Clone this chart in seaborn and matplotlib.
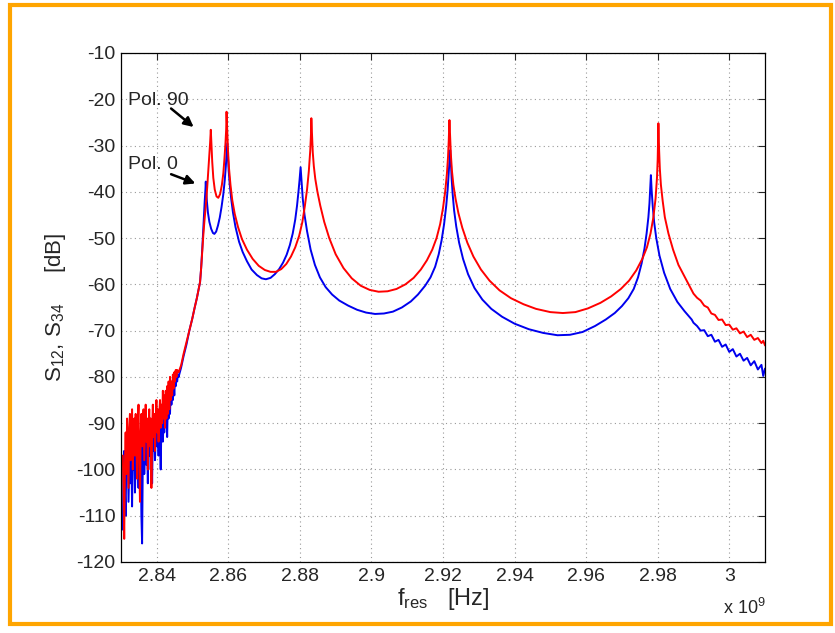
import numpy as np
import pandas as pd
import matplotlib
matplotlib.use("Agg")
import matplotlib.pyplot as plt
from matplotlib.patches import Rectangle
import seaborn as sns

# ------------------------ Donnees ------------------------
# frequence en GHz (axe affiche x 10^9), transmission en dB

# zone bruitee commune (basse frequence)
noise_freq = [2.8305, 2.8307, 2.8309, 2.8311, 2.8313, 2.8315, 2.8317, 2.8319, 2.8321, 2.8323,
              2.8325, 2.8327, 2.8329, 2.8331, 2.8333, 2.8335, 2.8337, 2.8339, 2.8341, 2.8343,
              2.8345, 2.8347, 2.8349, 2.8351, 2.8353, 2.8355, 2.8357, 2.8359, 2.8361, 2.8363,
              2.8365, 2.8367, 2.8369, 2.8371, 2.8373, 2.8375, 2.8377, 2.8379, 2.8381, 2.8383,
              2.8385, 2.8387, 2.8389, 2.8391, 2.8393, 2.8395, 2.8397, 2.8399, 2.8401, 2.8403,
              2.8405, 2.8407, 2.8409, 2.8411, 2.8413, 2.8415, 2.8417, 2.8419, 2.8421, 2.8423,
              2.8425, 2.8427, 2.8429, 2.8431, 2.8433, 2.8435, 2.8437, 2.8439, 2.8441, 2.8443,
              2.8445, 2.8447, 2.8449, 2.8451, 2.8453, 2.8455, 2.8457, 2.8459, 2.8461]
noise_pol0 = [-113, -100, -96, -105, -110, -97, -101, -94, -107, -99,
              -92, -103, -97, -108, -95, -100, -93, -105, -98, -91,
              -101, -96, -104, -92, -99, -95, -110, -116, -98, -93,
              -101, -96, -90, -99, -94, -103, -92, -97, -89, -100,
              -94, -103, -91, -96, -90, -98, -93, -88, -95, -91,
              -97, -89, -93, -100, -90, -87, -94, -89, -92, -86,
              -90, -87, -93, -85, -89, -84, -88, -83, -86, -82,
              -85, -81, -84, -80.5, -82, -80, -81, -79.5, -80]
noise_pol90 = [-97, -104, -115, -99, -92, -101, -89, -96, -104, -91,
               -88, -98, -93, -87, -100, -94, -89, -97, -88, -95,
               -102, -90, -86, -96, -107, -93, -88, -95, -90, -87,
               -98, -92, -86, -94, -89, -100, -91, -87, -95, -89,
               -104, -92, -86, -93, -88, -96, -90, -85, -92, -87,
               -94, -88, -85, -91, -86, -90, -83, -89, -84, -91,
               -83, -89, -82, -88, -81, -87, -80, -85, -81, -84,
               -79.5, -82.5, -79, -81, -78.5, -80, -78.5, -79, -79]

# Pol. 0 (bleu)
freq_pol0 = [2.8468, 2.8475, 2.8483, 2.8491, 2.8499, 2.8506, 2.8512, 2.8517, 2.8521, 2.8524,
             2.8527, 2.8530, 2.8532, 2.8534, 2.8536, 2.8537, 2.8538, 2.8540, 2.8543, 2.8547,
             2.8552, 2.8557, 2.8561, 2.8566, 2.8571, 2.8576, 2.8581, 2.8586, 2.8590, 2.8593,
             2.8595, 2.8597, 2.8599, 2.8601, 2.8604, 2.8608, 2.8613, 2.8620, 2.8630, 2.8640,
             2.8652, 2.8665, 2.8680, 2.8693, 2.8705, 2.8718, 2.8730, 2.8742, 2.8753, 2.8763,
             2.8772, 2.8780, 2.8787, 2.8792, 2.8796, 2.8799, 2.8802, 2.8805, 2.8808, 2.8813,
             2.8820, 2.8830, 2.8842, 2.8856, 2.8872, 2.8890, 2.8910, 2.8935, 2.8960, 2.8985,
             2.9010, 2.9035, 2.9060, 2.9085, 2.9110, 2.9130, 2.9150, 2.9165, 2.9178, 2.9188,
             2.9196, 2.9203, 2.9209, 2.9213, 2.9216, 2.9218, 2.9220, 2.9222, 2.9224, 2.9227,
             2.9231, 2.9237, 2.9245, 2.9256, 2.9270, 2.9288, 2.9310, 2.9335, 2.9365, 2.9400,
             2.9440, 2.9480, 2.9520, 2.9555, 2.9590, 2.9625, 2.9655, 2.9680, 2.9700, 2.9718,
             2.9733, 2.9745, 2.9755, 2.9763, 2.9769, 2.9774, 2.9777, 2.9779, 2.9781, 2.9783,
             2.9786, 2.9790, 2.9796, 2.9805, 2.9818, 2.9835, 2.9855, 2.9875, 2.9895, 2.9900,
             2.9910, 2.9920, 2.9930, 2.9940, 2.9950, 2.9960, 2.9970, 2.9980, 2.9990, 3.0000,
             3.0010, 3.0020, 3.0030, 3.0040, 3.0050, 3.0060, 3.0070, 3.0080, 3.0090, 3.0095,
             3.0100]
s_pol0 = [-78, -75.5, -73, -70, -67.5, -65, -63, -61, -59.5, -56.5,
          -52.5, -48, -45, -42, -39.5, -37.8, -39.5, -42, -44.5, -46.5,
          -48, -48.9, -49.1, -48.6, -47.3, -45.6, -43.3, -40.5, -37.5, -34.5,
          -32, -29.5, -32.5, -35.5, -38.5, -41.5, -44.5, -47.6, -50.8, -53,
          -55, -56.8, -58, -58.7, -58.9, -58.6, -57.8, -56.7, -55.3, -53.6,
          -51.5, -49, -46, -43, -40, -37.5, -34.7, -38, -41.5, -45,
          -48.5, -52.5, -55.8, -58.5, -60.6, -62.2, -63.5, -64.6, -65.5, -66.1,
          -66.4, -66.3, -65.9, -65, -63.7, -62.2, -60.3, -58.5, -56.2, -53.5,
          -50.5, -47, -43, -39.5, -36, -33.5, -31, -33.5, -37, -40.5,
          -44, -47.5, -51, -54.5, -57.8, -60.8, -63.3, -65.3, -67, -68.5,
          -69.7, -70.5, -71, -70.9, -70.3, -69, -67.6, -66.2, -64.7, -63,
          -61, -58.5, -55.5, -52.3, -49, -45.5, -42.5, -39.5, -36.4, -39.5,
          -43, -46.5, -50, -53.8, -57.5, -61, -63.8, -65.8, -67.6, -68.3,
          -69.0, -70.0, -69.9, -71.2, -70.9, -72.4, -72.0, -73.5, -73.0, -74.6,
          -74.0, -75.6, -75.0, -76.5, -75.9, -77.5, -76.6, -78.4, -77.4, -79.8,
          -78.2]

# Pol. 90 (rouge)
freq_pol90 = [2.8468, 2.8475, 2.8483, 2.8491, 2.8499, 2.8506, 2.8512, 2.8517, 2.8521, 2.8524,
              2.8527, 2.8530, 2.8533, 2.8537, 2.8541, 2.8544, 2.8547, 2.8549, 2.8551, 2.8553,
              2.8555, 2.8558, 2.8562, 2.8567, 2.8572, 2.8577, 2.8582, 2.8586, 2.8589, 2.8592,
              2.8594, 2.8595, 2.8597, 2.8599, 2.8602, 2.8606, 2.8611, 2.8618, 2.8627, 2.8638,
              2.8652, 2.8668, 2.8685, 2.8702, 2.8718, 2.8733, 2.8748, 2.8762, 2.8775, 2.8787,
              2.8798, 2.8807, 2.8814, 2.8820, 2.8825, 2.8829, 2.8831, 2.8832, 2.8834, 2.8836,
              2.8839, 2.8843, 2.8849, 2.8857, 2.8868, 2.8882, 2.8900, 2.8922, 2.8945, 2.8970,
              2.8995, 2.9020, 2.9045, 2.9070, 2.9095, 2.9118, 2.9138, 2.9155, 2.9170, 2.9182,
              2.9192, 2.9200, 2.9206, 2.9211, 2.9214, 2.9216, 2.9218, 2.9220, 2.9222, 2.9225,
              2.9229, 2.9235, 2.9243, 2.9254, 2.9268, 2.9285, 2.9306, 2.9330, 2.9358, 2.9390,
              2.9425, 2.9460, 2.9500, 2.9535, 2.9570, 2.9605, 2.9640, 2.9670, 2.9697, 2.9720,
              2.9740, 2.9757, 2.9770, 2.9780, 2.9788, 2.9794, 2.9798, 2.9800, 2.9802, 2.9804,
              2.9806, 2.9809, 2.9814, 2.9820, 2.9830, 2.9843, 2.9858, 2.9875, 2.9890, 2.9900,
              2.9910, 2.9920, 2.9930, 2.9940, 2.9950, 2.9960, 2.9970, 2.9980, 2.9990, 3.0000,
              3.0010, 3.0020, 3.0030, 3.0040, 3.0050, 3.0060, 3.0070, 3.0080, 3.0090, 3.0095,
              3.0100]
s_pol90 = [-77.5, -75, -72.5, -70, -67.5, -65, -63, -61, -59.5, -56.5,
           -53, -49.5, -46.5, -43, -39, -35.5, -32, -29.5, -26.6, -30,
           -33.5, -37, -39.5, -41, -41.3, -40.5, -38.5, -36, -33, -29.5,
           -26.5, -22.7, -27, -31, -35, -38.5, -41.8, -44.8, -47.6, -50.2,
           -52.5, -54.5, -56, -56.9, -57.3, -57.3, -56.7, -55.6, -54.0, -52,
           -49.5, -46.5, -43, -39.5, -35.5, -31, -27.5, -24.1, -28, -31.5,
           -34.5, -37.2, -40, -43, -46.5, -50, -53.5, -56.5, -58.7, -60.3,
           -61.2, -61.6, -61.5, -61, -60, -58.6, -56.8, -54.8, -52.5, -50,
           -47, -43.5, -40, -36, -32.5, -29, -24.5, -28.5, -32, -35.5,
           -38.5, -41.5, -44.6, -47.8, -51, -54, -56.8, -59.2, -61.3, -63,
           -64.3, -65.3, -66, -66.2, -66, -65.2, -64, -62.6, -61, -59.2,
           -57, -54.5, -52, -49, -45.5, -41.5, -37, -33, -25.2, -31,
           -35, -38.5, -42, -45.5, -49, -52.5, -55.8, -58.3, -60.5, -62.0,
           -62.9, -63.5, -64.6, -65.0, -66.3, -66.6, -67.7, -67.6, -68.8, -68.7,
           -69.8, -69.5, -70.6, -70.2, -71.4, -70.9, -72.0, -71.6, -72.7, -72.2,
           -73.2]

# ------------------------ Tables ------------------------
df_pol0 = pd.DataFrame({"f": noise_freq + freq_pol0, "s": noise_pol0 + s_pol0})
df_pol90 = pd.DataFrame({"f": noise_freq + freq_pol90, "s": noise_pol90 + s_pol90})

# ------------------------ Figure ------------------------
sns.set_style("white")
plt.rcParams['font.family'] = ['Liberation Sans', 'DejaVu Sans']
plt.rcParams['mathtext.fontset'] = 'custom'
plt.rcParams['mathtext.rm'] = 'Liberation Sans'
plt.rcParams['mathtext.default'] = 'regular'
plt.rcParams['axes.unicode_minus'] = False

fig = plt.figure(figsize=(8.35, 6.33), dpi=100)
ax = fig.add_axes([0.1449, 0.1122, 0.7713, 0.8041])

sns.lineplot(data=df_pol0, x="f", y="s", ax=ax, color="#0000ee", lw=1.4,
             estimator=None, sort=False)
sns.lineplot(data=df_pol90, x="f", y="s", ax=ax, color="#ff0000", lw=1.4,
             estimator=None, sort=False)

ax.set_xlim(2.83, 3.01)
ax.set_ylim(-120, -10)
ax.set_xticks([2.84, 2.86, 2.88, 2.9, 2.92, 2.94, 2.96, 2.98, 3.0])
ax.set_xticklabels(["2.84", "2.86", "2.88", "2.9", "2.92", "2.94", "2.96", "2.98", "3"])
ax.set_yticks(range(-120, 0, 10))
ax.grid(True, linestyle=(0, (1, 3)), color="0.6", lw=0.8)
ax.tick_params(direction="in", top=True, right=True, length=5, width=0.8,
               labelsize=14, pad=4)
for sp in ax.spines.values():
    sp.set_color("black")
    sp.set_linewidth(0.9)

ax.set_xlabel(r"f$_{res}$   [Hz]", fontsize=17, labelpad=1)
ax.set_ylabel(r"S$_{12}$, S$_{34}$     [dB]", fontsize=16, labelpad=6)
fig.text(766 / 835, 1 - 614 / 633, r"x 10$^9$", ha="right", va="baseline", fontsize=13)

# annotations Pol.
ax.text(2.8319, -20.2, "Pol. 90", ha="left", va="center", fontsize=14)
ax.text(2.8319, -34.2, "Pol. 0", ha="left", va="center", fontsize=14)
arrow = dict(arrowstyle="-|>", color="black", lw=1.8, mutation_scale=14,
             shrinkA=0, shrinkB=0)
ax.annotate("", xy=(2.8503, -26.0), xytext=(2.8440, -22.0), arrowprops=arrow)
ax.annotate("", xy=(2.8508, -38.2), xytext=(2.8440, -36.2), arrowprops=arrow)

# cadre orange
fig.patches.append(Rectangle((10 / 835, 9 / 633), 821 / 835, 619 / 633,
                             transform=fig.transFigure, fill=False,
                             ec="#ffa500", lw=3.0))

fig.savefig("out.png", dpi=100)
